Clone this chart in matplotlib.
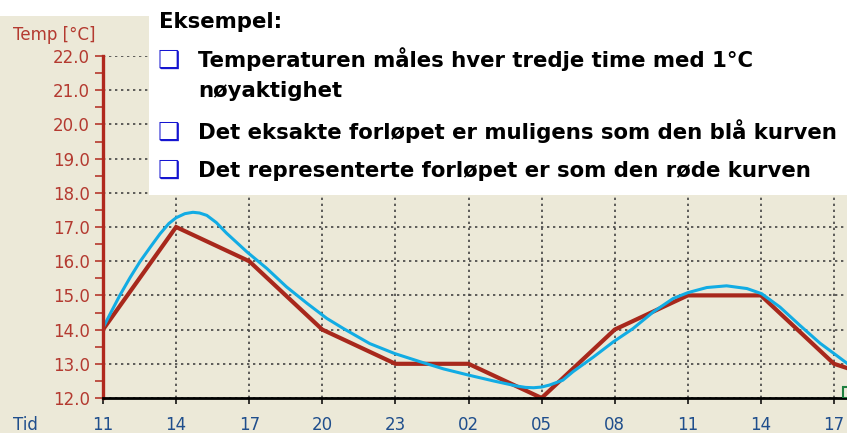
import matplotlib
matplotlib.use('Agg')
import matplotlib.pyplot as plt
from matplotlib.patches import Rectangle
from matplotlib.ticker import MultipleLocator, FormatStrFormatter

W, H = 847, 433  # figure size in pixels

# Time axis: one step = 3 hours, starting at 11
hour_labels = ['11', '14', '17', '20', '23', '02', '05', '08', '11', '14', '17']

# Represented (sampled) temperature, red
red_x = [0, 1, 2, 3, 4, 5, 6, 7, 8, 9, 10, 11]
red_y = [14, 17, 16, 14, 13, 13, 12, 14, 15, 15, 13, 12.3]

# Exact course, blue
blue_x = [0.0, 0.12, 0.23, 0.37, 0.51, 0.65, 0.78, 0.9, 1.0, 1.12, 1.23, 1.32,
          1.42, 1.55, 1.69, 1.97, 2.24, 2.51, 2.79, 3.06, 3.29, 3.65, 3.99,
          4.34, 4.66, 5.0, 5.34, 5.66, 5.78, 5.89, 6.0, 6.11, 6.29, 6.43,
          6.71, 6.98, 7.25, 7.53, 7.80, 8.0, 8.26, 8.53, 8.81, 9.01, 9.26,
          9.53, 9.81, 10.0, 10.2]
blue_y = [14.05, 14.55, 15.0, 15.52, 16.0, 16.42, 16.8, 17.1, 17.27, 17.39,
          17.43, 17.41, 17.34, 17.13, 16.82, 16.27, 15.79, 15.25, 14.77, 14.33,
          14.03, 13.59, 13.30, 13.06, 12.85, 12.67, 12.50, 12.35, 12.31, 12.30,
          12.32, 12.38, 12.52, 12.77, 13.2, 13.64, 14.03, 14.52, 14.91, 15.08,
          15.23, 15.28, 15.2, 15.05, 14.66, 14.13, 13.6, 13.3, 12.98]

title = 'Eksempel:'
bullet_lines = [
    ('Temperaturen måles hver tredje time med 1°C', True, 67),
    ('nøyaktighet', False, 97),
    ('Det eksakte forløpet er muligens som den blå kurven', True, 139),
    ('Det representerte forløpet er som den røde kurven', True, 177),
]

BEIGE = '#ECE9D8'
AXIS_RED = '#B0281E'
LABEL_RED = '#B43A30'
LABEL_BLUE = '#1F4E8C'
LINE_RED = '#A8281C'
LINE_BLUE = '#12ACE4'


def fx(px):
    return px / W


def fy(py):
    return 1 - py / H


fig = plt.figure(figsize=(W / 100, H / 100), dpi=100, facecolor=BEIGE)

# axes: x=0 at px 103, 73.1 px per step; y=12 at py 398, y=22 at py 56
ax = fig.add_axes([fx(103), fy(398), (W - 103) / W, (398 - 56) / H])
ax.set_facecolor(BEIGE)
ax.set_xlim(0, (W - 103) / 73.1)
ax.set_ylim(12, 22)

ax.grid(True, color='#444444', linestyle=(0, (1.4, 2.2)), linewidth=1.2)
ax.set_axisbelow(True)

ax.plot(red_x, red_y, color=LINE_RED, lw=3.0, solid_joinstyle='miter', zorder=3)
ax.plot(blue_x, blue_y, color=LINE_BLUE, lw=2.2, zorder=4)

for s in ['top', 'right']:
    ax.spines[s].set_visible(False)
ax.spines['left'].set_color(AXIS_RED)
ax.spines['left'].set_linewidth(2.4)
ax.spines['bottom'].set_color('black')
ax.spines['bottom'].set_linewidth(2.0)
ax.spines['left'].set_zorder(5)
ax.spines['bottom'].set_zorder(5)

ax.yaxis.set_major_locator(MultipleLocator(1))
ax.yaxis.set_minor_locator(MultipleLocator(0.5))
ax.yaxis.set_major_formatter(FormatStrFormatter('%.1f'))
ax.tick_params(axis='y', which='both', direction='out', length=5.8, width=1.1,
               color=AXIS_RED, labelcolor=LABEL_RED, labelsize=12, pad=3.6)

ax.set_xticks(range(len(hour_labels)))
ax.set_xticklabels(hour_labels)
ax.tick_params(axis='x', direction='out', length=4.5, width=1.1, color='black',
               labelcolor=LABEL_BLUE, labelsize=12, pad=8.5)

# small green marker at the right end of the time axis
ax.add_patch(Rectangle((10.12, 12.0), 0.3, 0.32, fill=False, edgecolor='#1E8040',
                       lw=1.5, zorder=6))

fig.text(fx(13), fy(40), 'Temp [°C]', color=LABEL_RED, fontsize=12, va='baseline')
fig.text(fx(13), fy(430), 'Tid', color=LABEL_BLUE, fontsize=12, va='baseline')

# white text area over the top of the chart
fig.add_artist(Rectangle((0, fy(16)), 1, 16 / H, transform=fig.transFigure,
                         facecolor='white', edgecolor='none', zorder=1))
fig.add_artist(Rectangle((fx(149), fy(195)), 1 - fx(149), 195 / H,
                         transform=fig.transFigure, facecolor='white',
                         edgecolor='none', zorder=1))

fig.text(fx(159), fy(28), title, fontsize=15.3, fontweight='bold', color='black',
         va='baseline')
for text, has_bullet, base in bullet_lines:
    if has_bullet:
        fig.text(fx(158), fy(base + 1), '\u2751', fontsize=18, color='#1515D0',
                 va='baseline', family='DejaVu Sans', fontweight='bold')
    fig.text(fx(198), fy(base), text, fontsize=15.35, fontweight='bold',
             color='black', va='baseline')

fig.savefig('out.png', dpi=100, facecolor=BEIGE)
